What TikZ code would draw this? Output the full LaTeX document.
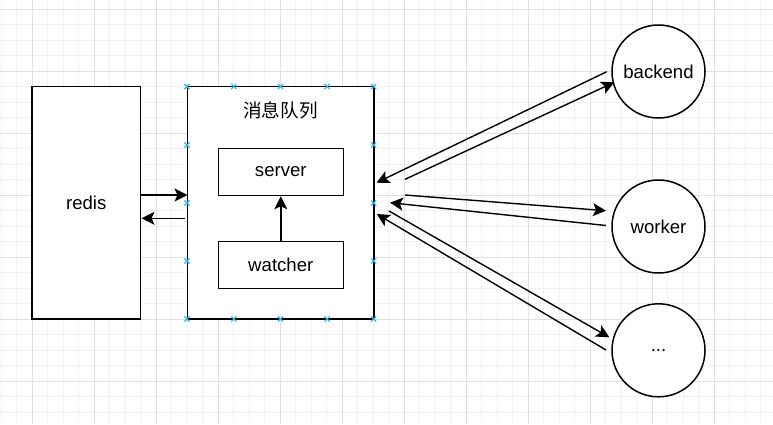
\documentclass[tikz,border=0pt]{standalone}
\usepackage{fontspec}
\setmainfont{Liberation Sans}
\newfontfamily\cjkfont{Noto Sans CJK SC}
\usetikzlibrary{arrows.meta}
\definecolor{gridminor}{RGB}{242,242,242}
\definecolor{gridmajor}{RGB}{224,224,224}
\definecolor{handleblue}{RGB}{41,182,242}
\begin{document}
\begin{tikzpicture}[x=1pt,y=-1pt,
  label font/.style={font=\fontsize{18.6}{22}\selectfont},
  box/.style={draw=black, fill=white, line width=1.5pt, rectangle, inner sep=0pt, label font},
  ball/.style={draw=black, fill=white, line width=1.5pt, circle, inner sep=0pt, minimum size=93pt, label font},
  conn/.style={line width=1.4pt, -{Stealth[length=13pt,width=13pt,inset=3pt]}},
  handle/.style={draw=handleblue, line width=1.1pt},
]
% canvas and grid
\useasboundingbox (0,0) rectangle (773,424);
\fill[white] (0,0) rectangle (773,424);
\foreach \k in {0,...,49}{
  \pgfmathsetmacro\gx{1+15.5*\k}
  \draw[gridminor, line width=1pt] (\gx,0) -- (\gx,424);
}
\foreach \k in {0,...,26}{
  \pgfmathsetmacro\gy{9+15.5*\k}
  \draw[gridminor, line width=1pt] (0,\gy) -- (773,\gy);
}
\foreach \gx in {32,94,...,714}{
  \draw[gridmajor, line width=1pt] (\gx,0) -- (\gx,424);
}
\foreach \gy in {9,71,...,381}{
  \draw[gridmajor, line width=1pt] (0,\gy) -- (773,\gy);
}

% shapes
\node[box, minimum width=108.5pt, minimum height=232.5pt] (redis) at (86.25,202.75) {redis};
\node[box, minimum width=186.5pt, minimum height=232.5pt] (mq) at (280.5,202.75) {};
\node[label font] (mqtitle) at (280.5,110) {\cjkfont 消息队列};
\node[box, minimum width=125pt, minimum height=47pt] (server) at (280.8,172) {\raisebox{-1.5pt}{server}};
\node[box, minimum width=125pt, minimum height=47pt] (watcher) at (280.8,265) {\raisebox{-1pt}{watcher}};
\node[ball] (backend) at (658.5,71.5) {backend};
\node[ball] (worker) at (658.5,226.5) {worker};
\node[ball] (etc) at (658.5,350.3) {...};

% free connector ends
\coordinate (redisOut) at (140.5,195);
\coordinate (mqIn) at (187.5,195);
\coordinate (mqOut) at (184.5,218.3);
\coordinate (redisIn) at (141.5,218.3);
\coordinate (backendOut) at (606.7,71.7);
\coordinate (mqBackendIn) at (376.5,182.7);
\coordinate (mqBackendOut) at (405,179.3);
\coordinate (backendIn) at (614.3,82.3);
\coordinate (mqWorkerOut) at (405,195);
\coordinate (workerIn) at (606,210.7);
\coordinate (workerOut) at (606,225.5);
\coordinate (mqWorkerIn) at (390,202.7);
\coordinate (mqEtcOut) at (389,211);
\coordinate (etcIn) at (609.3,337.3);
\coordinate (etcOut) at (606,350);
\coordinate (mqEtcIn) at (376.7,214);

% connectors
\draw[conn] (redisOut) -- (mqIn);
\draw[conn] (mqOut) -- (redisIn);
\draw[conn] (watcher) -- (server);
\draw[conn] (backendOut) -- (mqBackendIn);
\draw[conn] (mqBackendOut) -- (backendIn);
\draw[conn] (mqWorkerOut) -- (workerIn);
\draw[conn] (workerOut) -- (mqWorkerIn);
\draw[conn] (mqEtcOut) -- (etcIn);
\draw[conn] (etcOut) -- (mqEtcIn);

% selection handles on the queue box
\foreach \hx in {187,233.9,280.5,327.1,373.7}{
  \foreach \hy in {86.5,319}{
    \draw[handle] (\hx-2.6,\hy-2.6) -- (\hx+2.6,\hy+2.6) (\hx-2.6,\hy+2.6) -- (\hx+2.6,\hy-2.6);
  }
}
\foreach \hx in {187,373.7}{
  \foreach \hy in {145,203,261}{
    \draw[handle] (\hx-2.6,\hy-2.6) -- (\hx+2.6,\hy+2.6) (\hx-2.6,\hy+2.6) -- (\hx+2.6,\hy-2.6);
  }
}
\end{tikzpicture}
\end{document}
